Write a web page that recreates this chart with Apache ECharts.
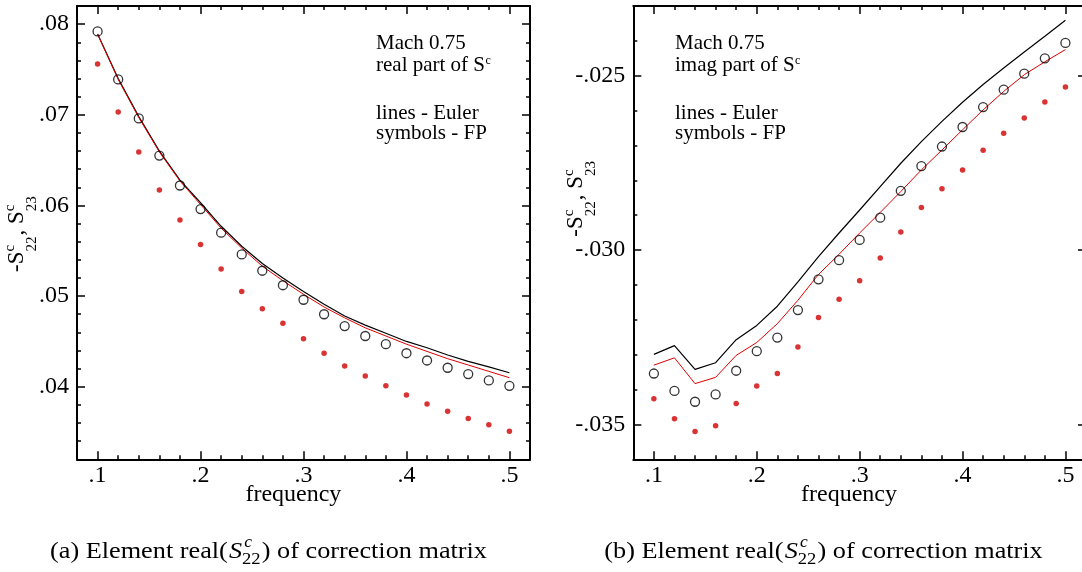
<!DOCTYPE html>
<html>
<head>
<meta charset="utf-8">
<script src="https://cdn.jsdelivr.net/npm/echarts@6/dist/echarts.min.js"></script>
<style>
  html, body { margin: 0; padding: 0; background: #ffffff; }
  #chart { width: 1082px; height: 572px; }
</style>
</head>
<body>
<div id="chart"></div>
<script>
// Reduced frequency samples shared by both panels
const frequency = [0.10, 0.12, 0.14, 0.16, 0.18, 0.20, 0.22, 0.24, 0.26, 0.28, 0.30,
                   0.32, 0.34, 0.36, 0.38, 0.40, 0.42, 0.44, 0.46, 0.48, 0.50];

// Real part: Euler lines (black / red) and FP symbols (open circles / red dots)
const realLineBlack = [0.0789, 0.0740, 0.0698, 0.0660, 0.0628, 0.0603, 0.0577, 0.0555, 0.0536, 0.0520, 0.0505,
                       0.0491, 0.0478, 0.0468, 0.0459, 0.0450, 0.0443, 0.0435, 0.0428, 0.0422, 0.04155];
const realLineRed   = [0.0789, 0.0739, 0.0697, 0.0659, 0.0627, 0.0601, 0.0575, 0.0553, 0.0533, 0.0517, 0.0502,
                       0.0488, 0.0476, 0.0465, 0.0456, 0.0447, 0.0439, 0.0431, 0.0424, 0.0417, 0.0410];
const realCircles   = [0.0792, 0.0739, 0.0696, 0.0655, 0.0622, 0.0596, 0.0570, 0.0546, 0.0528, 0.0512, 0.0496,
                       0.0480, 0.0467, 0.0456, 0.0447, 0.0437, 0.0429, 0.0421, 0.0414, 0.0407, 0.0401];
const realDots      = [0.0756, 0.0703, 0.0659, 0.0617, 0.0584, 0.0557, 0.0530, 0.0505, 0.0486, 0.0470, 0.0453,
                       0.0437, 0.0423, 0.0412, 0.0401, 0.0391, 0.0381, 0.0373, 0.0365, 0.0358, 0.0351];

// Imaginary part
const imagLineBlack = [-0.03299, -0.03274, -0.03342, -0.03323, -0.03257, -0.03216, -0.03161, -0.03091, -0.03019, -0.02951, -0.02885,
                       -0.02818, -0.02751, -0.02689, -0.02631, -0.02576, -0.02525, -0.02478, -0.02432, -0.02387, -0.02341];
const imagLineRed   = [-0.03330, -0.03309, -0.03383, -0.03365, -0.03302, -0.03265, -0.03211, -0.03144, -0.03070, -0.03012, -0.02951,
                       -0.02892, -0.02832, -0.02770, -0.02713, -0.02655, -0.02598, -0.02545, -0.02497, -0.02460, -0.02425];
const imagCircles   = [-0.03354, -0.03404, -0.03435, -0.03414, -0.03346, -0.03290, -0.03251, -0.03172, -0.03084, -0.03029, -0.02971,
                       -0.02907, -0.02830, -0.02759, -0.02703, -0.02647, -0.02590, -0.02540, -0.02494, -0.02450, -0.02406];
const imagDots      = [-0.03426, -0.03484, -0.03520, -0.03504, -0.03440, -0.03390, -0.03354, -0.03278, -0.03193, -0.03141, -0.03088,
                       -0.03023, -0.02948, -0.02878, -0.02824, -0.02770, -0.02714, -0.02665, -0.02621, -0.02575, -0.02532];

// Tick positions
const xMajorTicks = [0.1, 0.2, 0.3, 0.4, 0.5];
const xMinorTicks = [0.12, 0.14, 0.16, 0.18, 0.22, 0.24, 0.26, 0.28, 0.32, 0.34, 0.36, 0.38, 0.42, 0.44, 0.46, 0.48];
const realMajorTicks = [0.04, 0.05, 0.06, 0.07, 0.08];
const realMinorTicks = [0.034, 0.036, 0.038, 0.042, 0.044, 0.046, 0.048, 0.052, 0.054, 0.056, 0.058,
                        0.062, 0.064, 0.066, 0.068, 0.072, 0.074, 0.076, 0.078];
const imagMajorTicks = [-0.035, -0.03, -0.025];
const imagMinorTicks = [-0.034, -0.033, -0.032, -0.031, -0.029, -0.028, -0.027, -0.026, -0.024];

const SERIF = '"Liberation Serif", "Times New Roman", Times, serif';
const BLACK = '#000000';
const RED_LINE = '#e00000';
const RED_DOT = '#d00000';

// Text measuring for composing sub/superscripts
const measureCtx = document.createElement('canvas').getContext('2d');
function textW(str, size, style) {
  measureCtx.font = (style || 'normal') + ' ' + size + 'px ' + SERIF;
  return measureCtx.measureText(str).width;
}
function txt(x, y, str, size, opt) {
  opt = opt || {};
  return {
    type: 'text', x: x, y: y, silent: true,
    style: {
      text: str, fontSize: size, fontFamily: SERIF, fontStyle: opt.fontStyle || 'normal',
      fill: BLACK, align: opt.align || 'left', verticalAlign: 'middle',
      textAlign: opt.align || 'left', textVerticalAlign: 'middle'
    }
  };
}

// Axis pair (major with labels, minor without) on one side of a grid
function axisPair(gridIndex, position, min, max, major, minor, fmt, labelMargin) {
  const base = {
    type: 'value', gridIndex: gridIndex, position: position, min: min, max: max,
    splitLine: { show: false }, axisPointer: { show: false }
  };
  const main = Object.assign({}, base, {
    axisLine: { show: true, onZero: false, lineStyle: { color: BLACK, width: 2 } },
    axisTick: { show: true, inside: true, length: 8, customValues: major, lineStyle: { color: BLACK, width: 1.5 } },
    axisLabel: fmt ? {
      show: true, customValues: major, formatter: fmt, margin: labelMargin,
      fontFamily: SERIF, fontSize: 24, color: BLACK
    } : { show: false }
  });
  const sub = Object.assign({}, base, {
    axisLine: { show: false, onZero: false },
    axisTick: { show: true, inside: true, length: 4, customValues: minor, lineStyle: { color: BLACK, width: 1.5 } },
    axisLabel: { show: false }
  });
  return [main, sub];
}

const fmtX = v => v.toFixed(1).replace('0.', '.');
const fmtReal = v => v.toFixed(2).replace('0.', '.');
const fmtImag = v => v.toFixed(3).replace('0.', '.');

const xAxes = [].concat(
  axisPair(0, 'bottom', 0.08, 0.52, xMajorTicks, xMinorTicks, fmtX, 4),
  axisPair(0, 'top', 0.08, 0.52, xMajorTicks, xMinorTicks, null),
  axisPair(1, 'bottom', 0.08, 0.52, xMajorTicks, xMinorTicks, fmtX, 4),
  axisPair(1, 'top', 0.08, 0.52, xMajorTicks, xMinorTicks, null)
);
const yAxes = [].concat(
  axisPair(0, 'left', 0.032, 0.082, realMajorTicks, realMinorTicks, fmtReal, 8),
  axisPair(0, 'right', 0.032, 0.082, realMajorTicks, realMinorTicks, null),
  axisPair(1, 'left', -0.036, -0.023, imagMajorTicks, imagMinorTicks, fmtImag, 8),
  axisPair(1, 'right', -0.036, -0.023, imagMajorTicks, imagMinorTicks, null)
);

function pairs(values) { return frequency.map((f, i) => [f, values[i]]); }

function panelSeries(axisIndex, lineBlack, lineRed, circles, dots) {
  const common = { xAxisIndex: axisIndex, yAxisIndex: axisIndex, silent: true, animation: false };
  return [
    Object.assign({ type: 'line', data: pairs(lineBlack), symbol: 'none', z: 2,
      lineStyle: { color: BLACK, width: 1.2 } }, common),
    Object.assign({ type: 'line', data: pairs(lineRed), symbol: 'none', z: 2,
      lineStyle: { color: RED_LINE, width: 1 } }, common),
    Object.assign({ type: 'scatter', data: pairs(circles), symbol: 'circle', symbolSize: 9, z: 3,
      itemStyle: { color: 'rgba(0,0,0,0)', borderColor: BLACK, borderWidth: 1.3 } }, common),
    Object.assign({ type: 'scatter', data: pairs(dots), symbol: 'circle', symbolSize: 5.5, z: 3,
      itemStyle: { color: RED_DOT } }, common)
  ];
}

// Rotated y-axis title: -S^c_22 , S^c_23
function yTitle(bx, by) {
  const big = 23, small = 15;
  const mainY = -7.8, supY = -15, subY = 6.6;
  const w1 = textW('-S', big);
  const x2 = w1 + textW('22', small) + 1;
  const w2 = x2 + textW(', S', big);
  return {
    type: 'group', x: bx, y: by, rotation: Math.PI / 2, silent: true,
    children: [
      txt(0, mainY, '-S', big),
      txt(w1, supY, 'c', small),
      txt(w1, subY, '22', small),
      txt(x2, mainY, ', S', big),
      txt(w2, supY, 'c', small),
      txt(w2, subY, '23', small)
    ]
  };
}

// In-plot annotation block
function note(x, partLine) {
  const size = 21;
  const wPart = textW(partLine, size);
  return [
    txt(x, 43.5, 'Mach 0.75', size),
    txt(x, 65.8, partLine, size),
    txt(x + wPart + 0.5, 61, 'c', 12),
    txt(x, 113, 'lines - Euler', size),
    txt(x, 133.5, 'symbols - FP', size)
  ];
}

// Sub-figure caption: (tag) Element real(S^c_22) of correction matrix
function captionParts(tag) {
  const big = 24, sup = 16, sub = 17;
  const p1 = '(' + tag + ') Element real(';
  const p2 = ') of correction matrix';
  const xS = textW(p1, big) + 1;
  const xScript = xS + textW('S', big, 'italic');
  const x2 = xScript + Math.max(textW('c', sup, 'italic') + 2, textW('22', sub)) + 1;
  const total = x2 + textW(p2, big);
  return {
    total: total,
    children: [
      txt(0, 551.9, p1, big),
      txt(xS, 551.9, 'S', big, { fontStyle: 'italic' }),
      txt(xScript + 2, 542.9, 'c', sup, { fontStyle: 'italic' }),
      txt(xScript, 559.3, '22', sub),
      txt(x2, 551.9, p2, big)
    ]
  };
}
const capA = captionParts('a');
const capB = captionParts('b');
const capScale = 437 / capA.total;

const graphics = [].concat(
  [yTitle(25, 272), yTitle(584, 236.7)],
  note(376, 'real part of S'),
  note(675, 'imag part of S'),
  [
    txt(293.4, 495.2, 'frequency', 24, { align: 'center' }),
    txt(849, 495.2, 'frequency', 24, { align: 'center' }),
    { type: 'group', x: 268.5 - capA.total * capScale / 2, y: 0, scaleX: capScale, scaleY: 1, silent: true, children: capA.children },
    { type: 'group', x: 823.5 - capB.total * capScale / 2, y: 0, scaleX: capScale, scaleY: 1, silent: true, children: capB.children }
  ]
);

const chart = echarts.init(document.getElementById('chart'), null, { renderer: 'canvas' });
chart.setOption({
  animation: false,
  backgroundColor: '#ffffff',
  grid: [
    { left: 77, top: 6, width: 453, height: 453.3, containLabel: false, outerBoundsMode: 'none' },
    { left: 633.3, top: 6, width: 452.7, height: 453.3, containLabel: false, outerBoundsMode: 'none' }
  ],
  xAxis: xAxes,
  yAxis: yAxes,
  series: [].concat(
    panelSeries(0, realLineBlack, realLineRed, realCircles, realDots),
    panelSeries(4, imagLineBlack, imagLineRed, imagCircles, imagDots)
  ),
  graphic: graphics
});
</script>
</body>
</html>
